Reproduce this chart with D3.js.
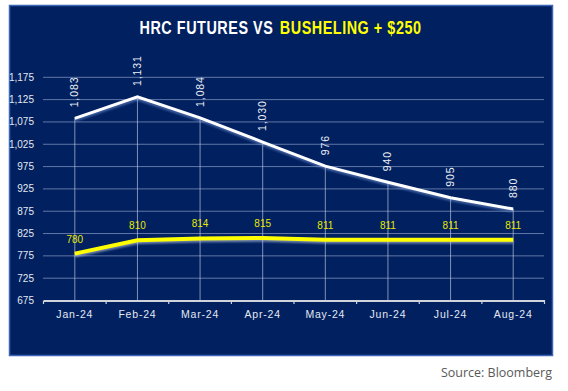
<!DOCTYPE html>
<html>
<head>
<meta charset="utf-8">
<script src="https://cdn.jsdelivr.net/npm/d3@7"></script>
<style>
html,body{margin:0;padding:0;background:#fff;}
svg{display:block;}
</style>
</head>
<body>
<svg id="chart" width="568" height="391"></svg>
<script>
const categories = ["Jan-24","Feb-24","Mar-24","Apr-24","May-24","Jun-24","Jul-24","Aug-24"];
const hrcFutures = [1083, 1131, 1084, 1030, 976, 940, 905, 880];
const bushelingPlus250 = [780, 810, 814, 815, 811, 811, 811, 811];
const yTicks = [675, 725, 775, 825, 875, 925, 975, 1025, 1075, 1125, 1175];

const svg = d3.select("#chart");
const defs = svg.append("defs");
const f = defs.append("filter").attr("id","blur").attr("x","-10%").attr("y","-50%").attr("width","120%").attr("height","200%");
f.append("feGaussianBlur").attr("stdDeviation",1);

// panel
svg.append("rect").attr("x",9.5).attr("y",5.5).attr("width",543).attr("height",350)
  .attr("fill","#002060").attr("stroke","#3e64b8").attr("stroke-width",1.5);

const x = d3.scaleBand().domain(categories).range([43.5, 544.5]);
const y = d3.scaleLinear().domain([675, 1175]).range([300.5, 77.3]);
const cx = d => x(d) + x.bandwidth()/2;

// gridlines
svg.append("g").selectAll("line").data(yTicks.slice(1)).join("line")
  .attr("x1",43).attr("x2",544).attr("y1",d=>y(d)).attr("y2",d=>y(d))
  .attr("stroke","#8c9cc4").attr("stroke-opacity",0.7).attr("stroke-width",1);

// y labels
svg.append("g").selectAll("text").data(yTicks).join("text")
  .attr("x",34).attr("y",d=>y(d)).attr("dy","0.35em").attr("text-anchor","end")
  .attr("fill","#e4e8f0").attr("font-family","Liberation Sans, Arial, sans-serif").attr("font-size",10)
  .text(d=>d3.format(",")(d));

// drop lines
svg.append("g").selectAll("line").data(categories).join("line")
  .attr("x1",d=>cx(d)).attr("x2",d=>cx(d))
  .attr("y1",(d,i)=>y(hrcFutures[i])).attr("y2",y(675))
  .attr("stroke","#b8c2dc").attr("stroke-opacity",0.7).attr("stroke-width",1);

// x axis
const xAxis = d3.axisBottom(x).tickSize(0).tickSizeOuter(0).tickPadding(10);
const gx = svg.append("g").attr("transform",`translate(0,${y(675)})`).call(xAxis);
gx.select(".domain").attr("stroke","#d0d4dc").attr("stroke-width",1.8);
gx.selectAll("text").attr("fill","#e4e8f0").attr("font-family","Liberation Sans, Arial, sans-serif")
  .attr("font-size",10.5).attr("letter-spacing",0.8);
const bounds = categories.map(c=>x(c)).concat([x.range()[1]]);
svg.append("g").selectAll("line").data(bounds).join("line")
  .attr("x1",d=>d).attr("x2",d=>d).attr("y1",y(675)).attr("y2",y(675)+3.5)
  .attr("stroke","#d0d4dc").attr("stroke-width",1.2);

const line = d3.line().x((d,i)=>cx(categories[i])).y(d=>y(d));

// white line shadow + line
svg.append("path").datum(hrcFutures).attr("d",line).attr("transform","translate(0,1.8)")
  .attr("fill","none").attr("stroke","#7f9ee0").attr("stroke-width",3).attr("stroke-opacity",0.55).attr("filter","url(#blur)");
svg.append("path").datum(hrcFutures).attr("d",line)
  .attr("fill","none").attr("stroke","#ffffff").attr("stroke-width",3);

// yellow line shadow + line
svg.append("path").datum(bushelingPlus250).attr("d",line).attr("transform","translate(0,2)")
  .attr("fill","none").attr("stroke","#c8d0e8").attr("stroke-width",3.5).attr("stroke-opacity",0.6).attr("filter","url(#blur)");
svg.append("path").datum(bushelingPlus250).attr("d",line)
  .attr("fill","none").attr("stroke","#ffff00").attr("stroke-width",4);

// white labels (rotated)
svg.append("g").selectAll("text").data(hrcFutures).join("text")
  .attr("transform",(d,i)=>`translate(${cx(categories[i])+3.5},${y(d)-11}) rotate(-90)`)
  .attr("fill","#eef0f6").attr("font-family","Liberation Sans, Arial, sans-serif")
  .attr("font-size",10.5).attr("letter-spacing",0.9)
  .text(d=>d3.format(",")(d));

// yellow labels
svg.append("g").selectAll("text").data(bushelingPlus250).join("text")
  .attr("x",(d,i)=>cx(categories[i])).attr("y",d=>y(d)-11)
  .attr("text-anchor","middle").attr("fill","#e8e800")
  .attr("font-family","Liberation Sans Narrow, Liberation Sans, Arial, sans-serif").attr("font-size",10)
  .text(d=>d);

// title: condensed bold, letter-spaced to span the reference width
const sx = 0.8;
const titleParts = [["HRC FUTURES VS", "#ffffff"], ["BUSHELING + $250", "#ffff00"]];
const tg = svg.append("g").attr("transform", `translate(139.5,33.7) scale(${sx},1)`);
const tEls = titleParts.map(([s,c]) => tg.append("text").attr("y",0)
  .attr("font-family","Liberation Sans, Arial, sans-serif").attr("font-weight","bold")
  .attr("font-size",18).attr("fill",c).style("white-space","pre").text(s));
const targetW = 282 / sx, gap = 7 / sx;
let ls = 0;
const nChars = titleParts.reduce((a,p)=>a+p[0].length,0);
for (let k = 0; k < 3; k++) {
  tEls.forEach(e => e.attr("letter-spacing", ls));
  const w = tEls.reduce((a,e)=>a+e.node().getComputedTextLength(),0) + gap - ls;
  ls += (targetW - w) / nChars;
}
tEls.forEach(e => e.attr("letter-spacing", ls));
let xs = 0;
tEls.forEach(e => { e.attr("x", xs); xs += e.node().getComputedTextLength() + gap - ls; });

// source
svg.append("text").attr("x",552).attr("y",377).attr("text-anchor","end")
  .attr("fill","#595959").attr("font-family","Open Sans, sans-serif").attr("font-size",12.5)
  .text("Source: Bloomberg");
</script>
</body>
</html>
